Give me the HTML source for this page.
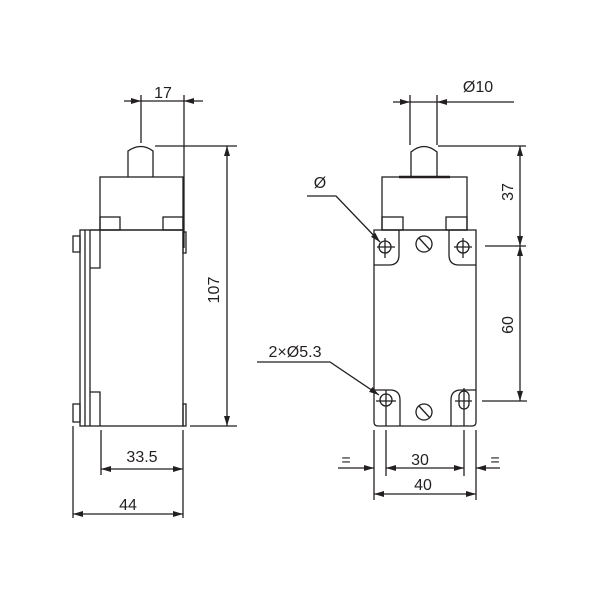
<!DOCTYPE html>
<html><head><meta charset="utf-8"><style>html,body{margin:0;background:#fff}svg{display:block}</style></head><body>
<svg width="600" height="600" viewBox="0 0 600 600" xmlns="http://www.w3.org/2000/svg" font-family="Liberation Sans, sans-serif" font-size="16" fill="none" stroke="#231f20" stroke-width="1.3">
<defs><marker id="a" viewBox="0 0 10 6" refX="10" refY="3" markerWidth="10" markerHeight="6" orient="auto-start-reverse" markerUnits="userSpaceOnUse"><path d="M0,0L10,3L0,6z" fill="#231f20" stroke="none"/></marker></defs>
<!-- LEFT VIEW -->
<rect x="80" y="230" width="103" height="196"/>
<line x1="85" y1="230" x2="85" y2="426"/><line x1="90" y1="230" x2="90" y2="426"/>
<polyline points="90,230 100,230 100,268 90,268"/><polyline points="90,392 100,392 100,426"/>
<rect x="73" y="236" width="7" height="16"/><rect x="73" y="404" width="7" height="18"/>
<rect x="183" y="232" width="3" height="21"/><rect x="183" y="404" width="3" height="22"/>
<rect x="100" y="177" width="83" height="53"/>
<rect x="100" y="217" width="20" height="13"/><rect x="163" y="217" width="20" height="13"/>
<path d="M128,177V151Q141,142 153,151V177"/>
<line x1="141" y1="143" x2="141" y2="95"/><line x1="184" y1="95" x2="184" y2="248"/>
<line x1="124" y1="101" x2="141" y2="101" marker-end="url(#a)"/><line x1="141" y1="101" x2="184" y2="101"/><line x1="203" y1="101" x2="184" y2="101" marker-end="url(#a)"/>
<line x1="155" y1="146" x2="237" y2="146"/><line x1="190" y1="426" x2="237" y2="426"/>
<line x1="227" y1="146" x2="227" y2="426" marker-start="url(#a)" marker-end="url(#a)"/>
<line x1="101" y1="430" x2="101" y2="475"/><line x1="183" y1="430" x2="183" y2="518"/><line x1="73" y1="426" x2="73" y2="518"/>
<line x1="101" y1="469" x2="183" y2="469" marker-start="url(#a)" marker-end="url(#a)"/>
<line x1="73" y1="514" x2="183" y2="514" marker-start="url(#a)" marker-end="url(#a)"/>
<!-- RIGHT VIEW -->
<path d="M374,230H476V422Q476,426 472,426H378Q374,426 374,422Z"/>
<rect x="382" y="177" width="85" height="53"/>
<line x1="399" y1="177" x2="450" y2="177" stroke-width="2.5"/>
<rect x="382" y="217" width="21" height="13"/><rect x="446" y="217" width="21" height="13"/>
<path d="M411,177V152Q424,141 437,152V177"/>
<path d="M399,230V255Q399,265 389,265H374"/><path d="M449,230V255Q449,265 459,265H476"/>
<circle cx="385" cy="247" r="6"/><line x1="385" y1="238" x2="385" y2="258"/><line x1="377" y1="247" x2="395" y2="247"/>
<circle cx="463" cy="247" r="6"/><line x1="463" y1="238" x2="463" y2="258"/><line x1="454" y1="247" x2="472" y2="247"/>
<circle cx="424" cy="244" r="8"/><line x1="419" y1="238" x2="430" y2="250"/>
<path d="M374,390H390Q400,390 400,400V426"/><path d="M476,390H461Q451,390 451,400V426"/>
<circle cx="386" cy="400" r="6"/><line x1="386" y1="390" x2="386" y2="426"/><line x1="376" y1="401" x2="396" y2="401"/>
<rect x="459" y="391" width="10" height="18" rx="5"/><line x1="464" y1="388" x2="464" y2="426"/><line x1="455" y1="401" x2="472" y2="401"/>
<circle cx="424" cy="412" r="8"/><line x1="419" y1="406" x2="430" y2="418"/>
<line x1="410" y1="95" x2="410" y2="145"/><line x1="437" y1="95" x2="437" y2="145"/>
<line x1="393" y1="102" x2="410" y2="102" marker-end="url(#a)"/><line x1="410" y1="102" x2="437" y2="102"/><line x1="514" y1="102" x2="437" y2="102" marker-end="url(#a)"/>
<line x1="438" y1="146" x2="526" y2="146"/><line x1="485" y1="246" x2="526" y2="246"/><line x1="482" y1="401" x2="527" y2="401"/>
<line x1="520" y1="146" x2="520" y2="246" marker-start="url(#a)" marker-end="url(#a)"/>
<line x1="520" y1="246" x2="520" y2="401" marker-start="url(#a)" marker-end="url(#a)"/>
<polyline points="307,196 336,196 380,242" marker-end="url(#a)"/>
<polyline points="257,362 330,362 379,395" marker-end="url(#a)"/>
<line x1="374" y1="430" x2="374" y2="500"/><line x1="386" y1="430" x2="386" y2="476"/><line x1="464" y1="430" x2="464" y2="476"/><line x1="476" y1="430" x2="476" y2="500"/>
<line x1="338" y1="468" x2="374" y2="468" marker-end="url(#a)"/>
<line x1="386" y1="468" x2="464" y2="468" marker-start="url(#a)" marker-end="url(#a)"/>
<line x1="500" y1="468" x2="476" y2="468" marker-end="url(#a)"/>
<line x1="374" y1="494" x2="476" y2="494" marker-start="url(#a)" marker-end="url(#a)"/>
<g fill="#231f20" stroke="none">
<text x="163" y="98" text-anchor="middle">17</text>
<text x="0" y="0" text-anchor="middle" transform="translate(219,290) rotate(-90)">107</text>
<text x="142" y="462" text-anchor="middle">33.5</text>
<text x="128" y="510" text-anchor="middle">44</text>
<text x="478" y="92" text-anchor="middle">Ø10</text>
<text x="0" y="0" text-anchor="middle" transform="translate(513,192) rotate(-90)">37</text>
<text x="0" y="0" text-anchor="middle" transform="translate(513,325) rotate(-90)">60</text>
<text x="320" y="188" text-anchor="middle">Ø</text>
<text x="295" y="357" text-anchor="middle">2×Ø5.3</text>
<text x="346" y="465" text-anchor="middle">=</text>
<text x="495" y="465" text-anchor="middle">=</text>
<text x="420" y="465" text-anchor="middle">30</text>
<text x="423" y="490" text-anchor="middle">40</text>
</g>
</svg>
</body></html>
